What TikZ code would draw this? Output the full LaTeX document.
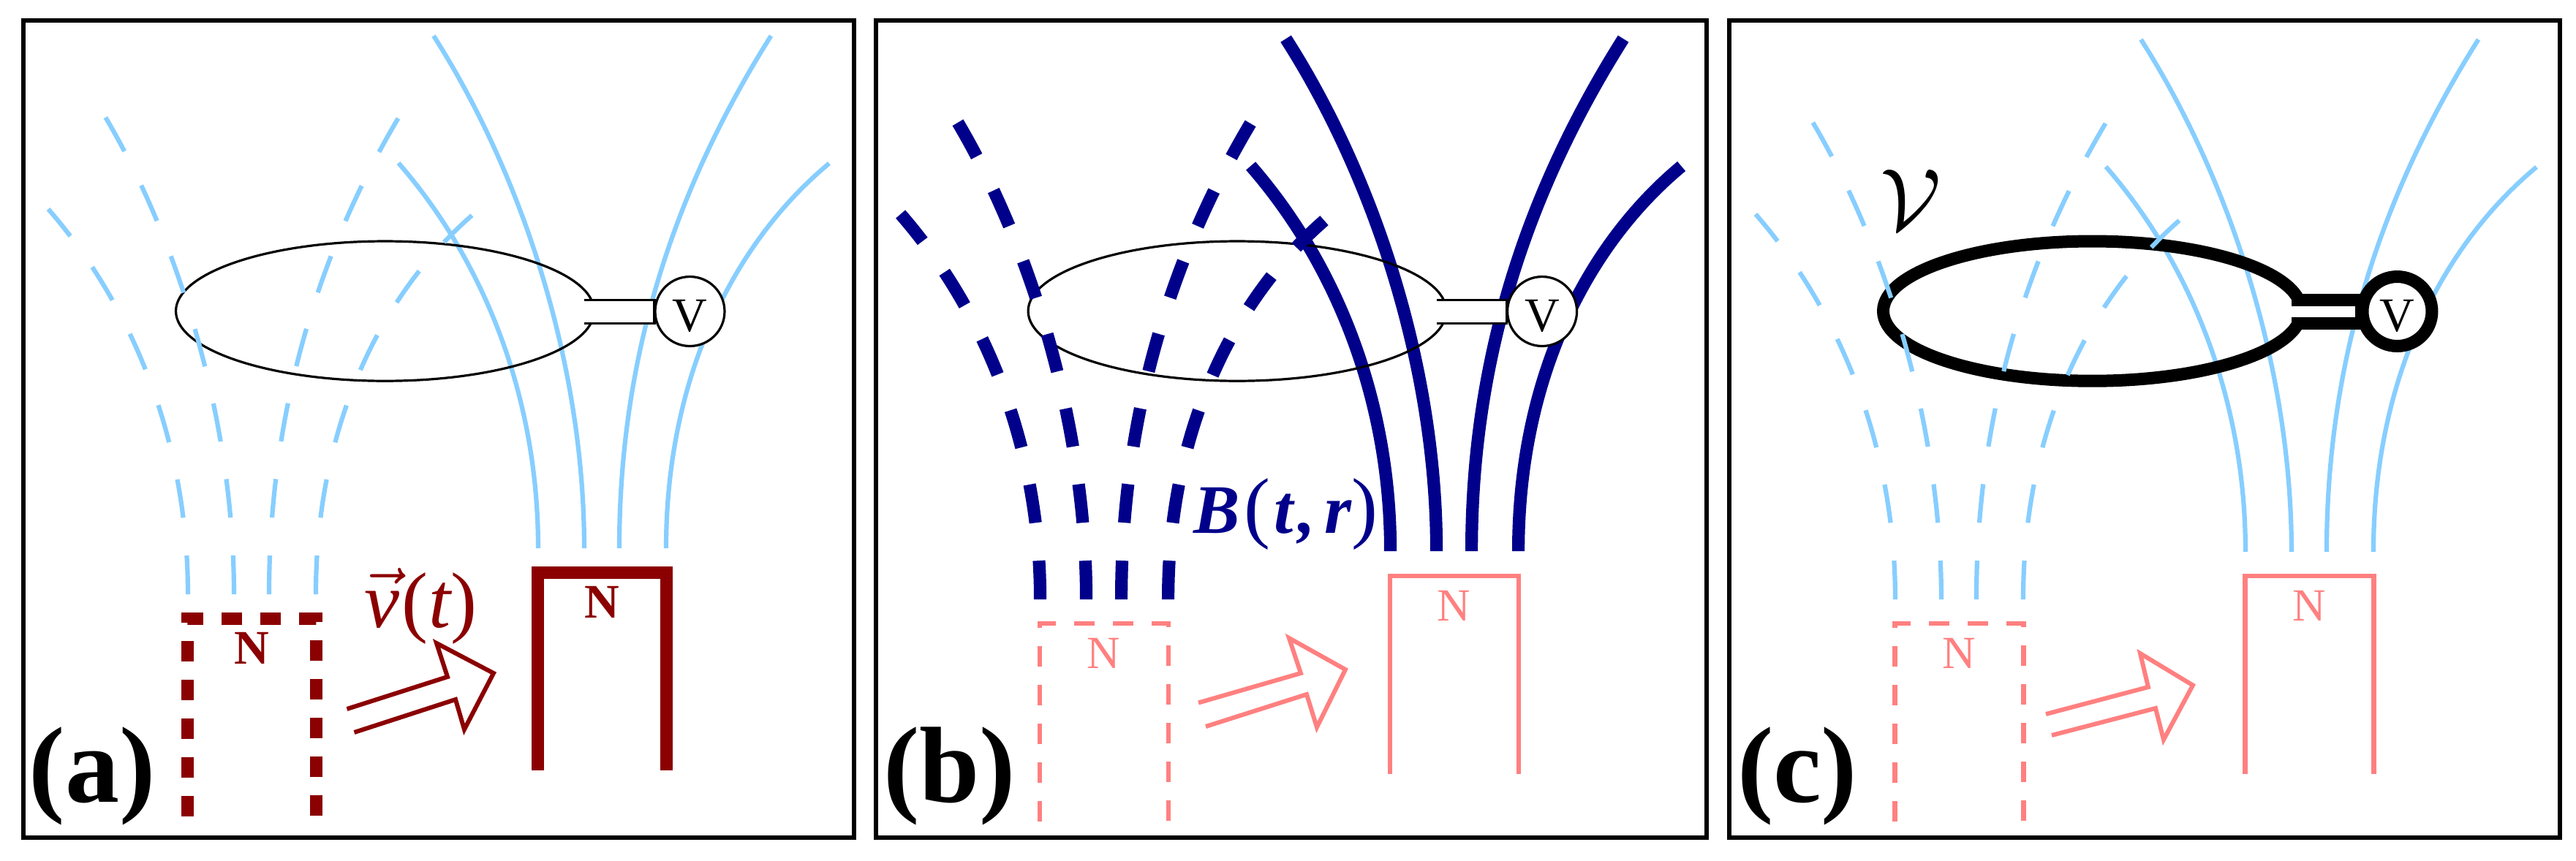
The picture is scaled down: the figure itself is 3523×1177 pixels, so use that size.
\documentclass[tikz,border=0pt]{standalone}
\usepackage{fontspec}
\setmainfont{Liberation Serif}
\definecolor{fluxlight}{HTML}{87CEFF}
\definecolor{fluxdark}{HTML}{00008B}
\definecolor{magdark}{HTML}{8B0000}
\definecolor{maglight}{HTML}{FF8080}
\tikzset{
  framebox/.style={draw=black,line width=0.6pt},
  flux/.style={draw=fluxlight,line width=0.62pt},
  fluxthick/.style={draw=fluxdark,line width=1.72pt},
  fluxdashes/.style={dash pattern=on 5.3pt off 5.2pt},
  toptrim/.style={shorten >=2.5pt},
  magdashes/.style={dash pattern=on 2.8pt off 2.5pt},
  magnetlight/.style={draw=maglight,line width=0.65pt,miter limit=10},
  magnetdark/.style={draw=magdark,line width=1.7pt,miter limit=10},
  movearrow/.style={line width=0.6pt,miter limit=20},
  polelight/.style={text=maglight,inner sep=0pt,font=\fontsize{6.3}{7}\selectfont},
  poledark/.style={text=magdark,inner sep=0pt,font=\fontsize{6.6}{7}\bfseries\selectfont},
  coilthin/.style={line width=0.32pt,draw=black},
  coilthick/.style={line width=1.7pt,draw=black},
  meter/.style={circle,fill=white,minimum size=9.5pt,inner sep=0pt,text height=5.5pt,text depth=0pt,
    font=\fontsize{6.6}{7}\selectfont},
  panellabel/.style={anchor=base west,inner sep=0pt,font=\fontsize{14.8}{16}\bfseries\selectfont}
}
% four field lines, drawn from the magnet outwards
\newcommand{\FluxLines}[2]{%
  \draw[#1] (736,750) .. controls (736,540) and (660,355) .. (545,223);
  \draw[#1,#2] (799,750) .. controls (799,500) and (715,240) .. (593,49);
  \draw[#1,#2] (847,750) .. controls (847,500) and (915,270) .. (1054.5,49);
  \draw[#1] (911,750) .. controls (911,520) and (1000,335) .. (1134,223.5);
}
\newcommand{\CoilMeter}[2]{% style, name
  \draw[#1] (526.5,425.6) ellipse [x radius=28.6pt,y radius=9.56pt];
  \draw[#1,fill=white] (799,410.3) -- (895,410.3) -- (895,442.3) -- (799,442.3);
  \node[meter,#1] (v#2) at (943.5,426) {V};
}
\newcommand{\Magnet}[4]{% magnet style, extra, label style, name
  \draw[#1,#2] (735.5,1054) -- (735.5,783) -- (911.5,783) -- (911.5,1054);
  \node[#3] (n#4) at (823,824) {N};
}
\begin{document}
\begin{tikzpicture}[x=0.1pt,y=-0.1pt,line cap=butt,line join=miter]
\useasboundingbox (0,0) rectangle (3523,1177);
\fill[white] (0,0) rectangle (3523,1177);
% ---------- panel a
\draw[framebox] (32,27.5) rectangle (1168,1146);
\FluxLines{flux}{}
\CoilMeter{coilthin}{a}
\begin{scope}[shift={(-479,63)}]
  \FluxLines{flux,fluxdashes}{toptrim}
  \Magnet{magnetdark}{magdashes}{poledark}{ad}
\end{scope}
\Magnet{magnetdark}{}{poledark}{as}
\draw[movearrow,draw=magdark] (474.5,970) -- (612,926) -- (597,880) -- (675,921) -- (635,998) -- (623,957) -- (484.5,1002);
\node[anchor=base west,inner sep=0pt,text=magdark,font=\fontsize{10.8}{12}\selectfont] (vel) at (496,858)
  {\ensuremath{\vec{\mbox{\itshape v}}}\kern0.4pt(\kern0.1pt{\itshape t}\kern0pt)};
\node[panellabel] (la) at (38,1097) {(a)};
% ---------- panel b
\begin{scope}[shift={(1165.6,0)}]
  \draw[framebox] (32,27.5) rectangle (1168,1146);
  \begin{scope}[shift={(0,4)}]
    \FluxLines{fluxthick}{}
  \end{scope}
  \CoilMeter{coilthin}{b}
  \begin{scope}[shift={(-479,70)}]
    \FluxLines{fluxthick,fluxdashes}{toptrim}
    \Magnet{magnetlight}{magdashes}{polelight}{bd}
  \end{scope}
  \begin{scope}[shift={(0,5)}]
    \Magnet{magnetlight}{}{polelight}{bs}
  \end{scope}
\end{scope}
\draw[movearrow,draw=maglight] (1639,961.5) -- (1779,921) -- (1763,873) -- (1840,916) -- (1801,995) -- (1787,950) -- (1649,994);
\node[anchor=base west,inner sep=0pt,text=fluxdark,font=\fontsize{10.8}{12}\selectfont] (field) at (1631,729)
  {{\fontsize{9.5}{11}\bfseries\itshape\selectfont B}\kern0.5pt(\kern0.5pt{\fontsize{9.5}{11}\bfseries\itshape\selectfont t\kern0.7pt,\kern1.2pt r}\kern0pt)};
\node[panellabel] (lb) at (1206,1097) {(b)};
% ---------- panel c
\begin{scope}[shift={(2333,0)}]
  \draw[framebox] (32,27.5) rectangle (1168,1146);
  \begin{scope}[shift={(2,5)}]
    \FluxLines{flux}{}
  \end{scope}
  \begin{scope}[shift={(2,0)}]
    \CoilMeter{coilthick}{c}
  \end{scope}
  \begin{scope}[shift={(-477,70)}]
    \FluxLines{flux,fluxdashes}{toptrim}
    \Magnet{magnetlight}{magdashes}{polelight}{cd}
  \end{scope}
  \begin{scope}[shift={(2,5)}]
    \Magnet{magnetlight}{}{polelight}{cs}
  \end{scope}
\end{scope}
\draw[movearrow,draw=maglight] (2798,977) -- (2938,940) -- (2927,894) -- (2999,937.5) -- (2959,1012) -- (2948,969) -- (2806,1006);
\node[inner sep=0pt,font=\fontsize{11.6}{14}\selectfont] (vol) at (2613,273) {\ensuremath{\mathcal{V}}};
\node[panellabel] (lc) at (2374,1097) {(c)};
\end{tikzpicture}
\end{document}
